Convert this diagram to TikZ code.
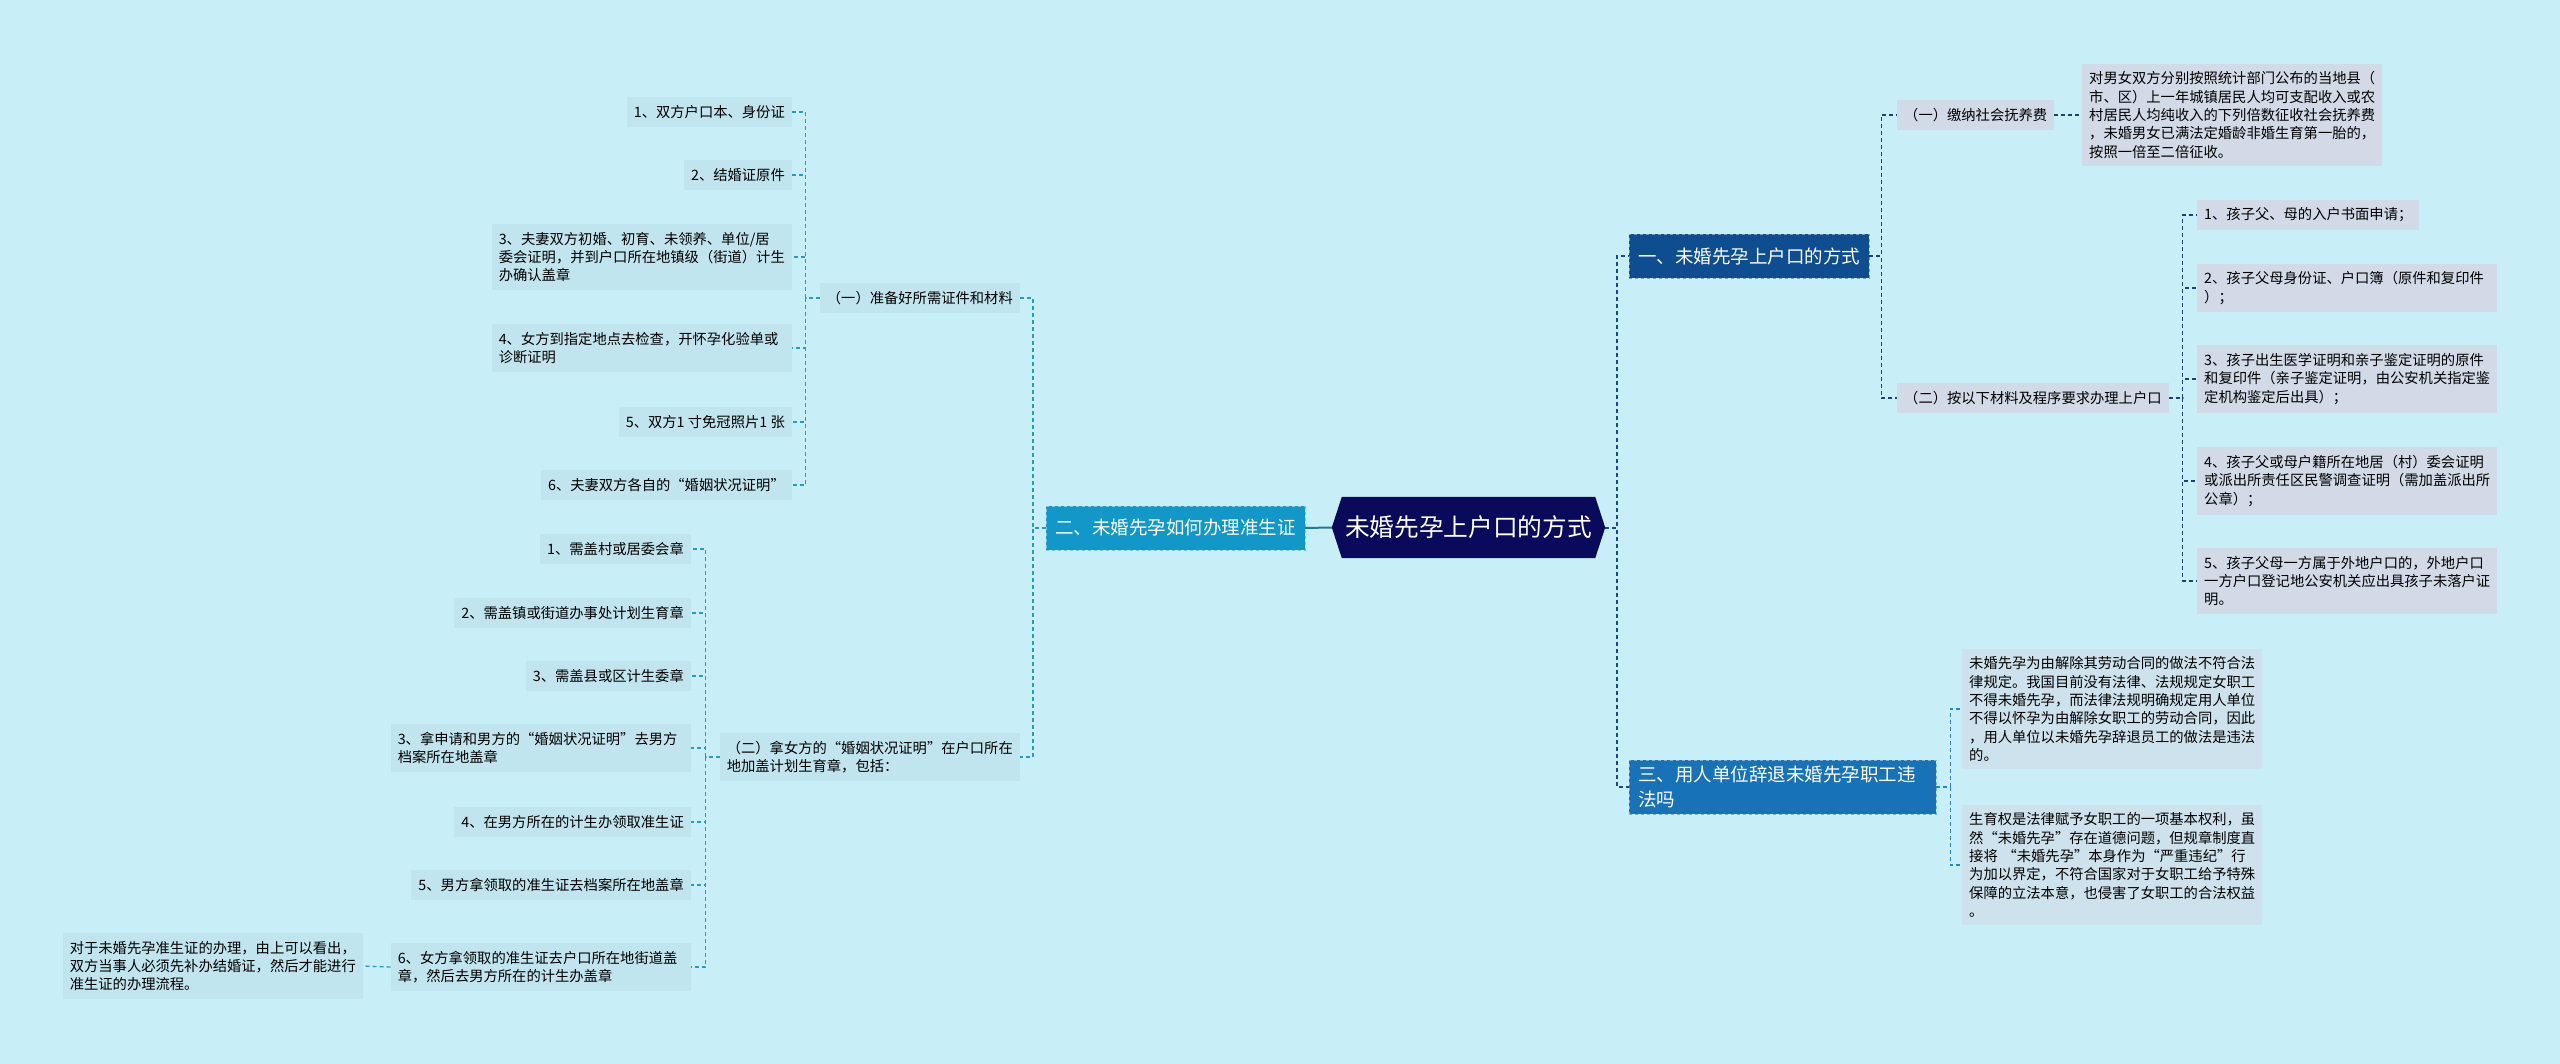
\documentclass[tikz,border=0pt]{standalone}
\usepackage{fontspec}
\setmainfont{Noto Sans CJK SC}
\usepackage{tikz}
\usetikzlibrary{backgrounds}
\definecolor{bgcyan}{HTML}{C8EFF7}
\definecolor{rootnavy}{HTML}{0A0A5C}
\definecolor{branchone}{HTML}{0E4D8F}
\definecolor{branchtwo}{HTML}{1298C8}
\definecolor{branchthree}{HTML}{1772B8}
\definecolor{leafgrey}{HTML}{D2DAE8}
\definecolor{leafcyan}{HTML}{C1E5EE}
\definecolor{leafpale}{HTML}{CEE2ED}
\definecolor{lineone}{HTML}{22406E}
\definecolor{linetwo}{HTML}{2A9AB8}
\definecolor{linethree}{HTML}{2C86BE}
\definecolor{lineroot}{HTML}{1A4A86}
\begin{document}
\begin{tikzpicture}
    [x=1pt,y=-1pt,
     rootnode/.style={minimum width=253pt,minimum height=61pt,inner sep=0pt,text=white,font=\fontsize{24.7}{30}\selectfont},
     mainbox/.style={rectangle,draw=#1!55!white,dashed,fill=#1,text=white,inner xsep=9pt,inner ysep=6pt,minimum height=44pt,align=left,font=\fontsize{18.5}{25}\selectfont},
     leafbox/.style={rectangle,fill=#1,inner xsep=7pt,inner ysep=8pt,align=left,font=\fontsize{14.3}{18.3}\selectfont},
     widebox/.style={text width=286pt},
     conn/.style={draw=#1,dash pattern=on 4pt off 3pt,line width=1.3pt}]
    \useasboundingbox (0,0) rectangle (2560,1064);

    \node (root) at (1468.5,527.5) [rootnode] {未婚先孕上户口的方式};

    \node (m2) at (1305,528) [mainbox=branchtwo,anchor=east] {二、未婚先孕如何办理准生证};
    \node (m1) at (1629,256) [mainbox=branchone,anchor=west] {一、未婚先孕上户口的方式};
    \node (m3) at (1629,787) [mainbox=branchthree,anchor=west,text width=289pt] {三、用人单位辞退未婚先孕职工违\\法吗};

    \node (s1) at (1020,298) [leafbox=leafcyan,anchor=east] {（一）准备好所需证件和材料};
    \node (s2) at (1020,757) [leafbox=leafcyan,anchor=east,widebox] {（二）拿女方的“婚姻状况证明”在户口所在\\地加盖计划生育章，包括：};

    \node (c11) at (792,112) [leafbox=leafcyan,anchor=east] {1、双方户口本、身份证};
    \node (c12) at (792,175) [leafbox=leafcyan,anchor=east] {2、结婚证原件};
    \node (c13) at (792,257) [leafbox=leafcyan,anchor=east,widebox] {3、夫妻双方初婚、初育、未领养、单位/居\\委会证明，并到户口所在地镇级（街道）计生\\办确认盖章};
    \node (c14) at (792,348) [leafbox=leafcyan,anchor=east,widebox] {4、女方到指定地点去检查，开怀孕化验单或\\诊断证明};
    \node (c15) at (792,422) [leafbox=leafcyan,anchor=east] {5、双方1 寸免冠照片1 张};
    \node (c16) at (792,485) [leafbox=leafcyan,anchor=east] {6、夫妻双方各自的“婚姻状况证明”};

    \node (c21) at (691,549) [leafbox=leafcyan,anchor=east] {1、需盖村或居委会章};
    \node (c22) at (691,613) [leafbox=leafcyan,anchor=east] {2、需盖镇或街道办事处计划生育章};
    \node (c23) at (691,676) [leafbox=leafcyan,anchor=east] {3、需盖县或区计生委章};
    \node (c24) at (691,748) [leafbox=leafcyan,anchor=east,widebox] {3、拿申请和男方的“婚姻状况证明”去男方\\档案所在地盖章};
    \node (c25) at (691,822) [leafbox=leafcyan,anchor=east] {4、在男方所在的计生办领取准生证};
    \node (c26) at (691,885) [leafbox=leafcyan,anchor=east] {5、男方拿领取的准生证去档案所在地盖章};
    \node (c27) at (691,967) [leafbox=leafcyan,anchor=east,widebox] {6、女方拿领取的准生证去户口所在地街道盖\\章，然后去男方所在的计生办盖章};
    \node (note) at (363,966) [leafbox=leafcyan,anchor=east,widebox] {对于未婚先孕准生证的办理，由上可以看出，\\双方当事人必须先补办结婚证，然后才能进行\\准生证的办理流程。};

    \node (r1) at (1897,115) [leafbox=leafgrey,anchor=west] {（一）缴纳社会抚养费};
    \node (r1p) at (2082,115) [leafbox=leafgrey,anchor=west,widebox] {对男女双方分别按照统计部门公布的当地县（\\市、区）上一年城镇居民人均可支配收入或农\\村居民人均纯收入的下列倍数征收社会抚养费\\，未婚男女已满法定婚龄非婚生育第一胎的，\\按照一倍至二倍征收。};
    \node (r2) at (1897,398) [leafbox=leafgrey,anchor=west] {（二）按以下材料及程序要求办理上户口};

    \node (r21) at (2197,215) [leafbox=leafgrey,anchor=west] {1、孩子父、母的入户书面申请；};
    \node (r22) at (2197,288) [leafbox=leafgrey,anchor=west,widebox] {2、孩子父母身份证、户口簿（原件和复印件\\）；};
    \node (r23) at (2197,379) [leafbox=leafgrey,anchor=west,widebox] {3、孩子出生医学证明和亲子鉴定证明的原件\\和复印件（亲子鉴定证明，由公安机关指定鉴\\定机构鉴定后出具）；};
    \node (r24) at (2197,481) [leafbox=leafgrey,anchor=west,widebox] {4、孩子父或母户籍所在地居（村）委会证明\\或派出所责任区民警调查证明（需加盖派出所\\公章）；};
    \node (r25) at (2197,581) [leafbox=leafgrey,anchor=west,widebox] {5、孩子父母一方属于外地户口的，外地户口\\一方户口登记地公安机关应出具孩子未落户证\\明。};

    \node (m31) at (1962,709) [leafbox=leafpale,anchor=west,widebox] {未婚先孕为由解除其劳动合同的做法不符合法\\律规定。我国目前没有法律、法规规定女职工\\不得未婚先孕，而法律法规明确规定用人单位\\不得以怀孕为由解除女职工的劳动合同，因此\\，用人单位以未婚先孕辞退员工的做法是违法\\的。};
    \node (m32) at (1962,865) [leafbox=leafpale,anchor=west,widebox] {生育权是法律赋予女职工的一项基本权利，虽\\然“未婚先孕”存在道德问题，但规章制度直\\接将 “未婚先孕”本身作为“严重违纪”行\\为加以界定，不符合国家对于女职工给予特殊\\保障的立法本意，也侵害了女职工的合法权益\\。};

    \begin{scope}[on background layer]
    \fill[bgcyan] (0,0) rectangle (2560,1064);
    \fill[rootnavy] ([xshift=-10pt]root.west) -- (root.north west) -- (root.north east)
        -- ([xshift=10pt]root.east) -- (root.south east) -- (root.south west) -- cycle;
    \end{scope}

    \draw[linetwo!80!black,line width=2pt] ([xshift=-10pt]root.west) -- (m2.east);
    \draw[conn=lineroot,line width=2pt] ([xshift=10pt]root.east) -- ++(12,0) |- (m1.west);
    \draw[conn=lineroot,line width=2pt] ([xshift=10pt]root.east) -- ++(12,0) |- (m3.west);

    \draw[conn=linetwo] (m2.west) -- ++(-13,0) |- (s1.east);
    \draw[conn=linetwo] (m2.west) -- ++(-13,0) |- (s2.east);

    \draw[conn=linetwo] (s1.west) -- ++(-14,0) |- (c11.east);
    \draw[conn=linetwo] (s1.west) -- ++(-14,0) |- (c12.east);
    \draw[conn=linetwo] (s1.west) -- ++(-14,0) |- (c13.east);
    \draw[conn=linetwo] (s1.west) -- ++(-14,0) |- (c14.east);
    \draw[conn=linetwo] (s1.west) -- ++(-14,0) |- (c15.east);
    \draw[conn=linetwo] (s1.west) -- ++(-14,0) |- (c16.east);

    \draw[conn=linetwo] (s2.west) -- ++(-14,0) |- (c21.east);
    \draw[conn=linetwo] (s2.west) -- ++(-14,0) |- (c22.east);
    \draw[conn=linetwo] (s2.west) -- ++(-14,0) |- (c23.east);
    \draw[conn=linetwo] (s2.west) -- ++(-14,0) |- (c24.east);
    \draw[conn=linetwo] (s2.west) -- ++(-14,0) |- (c25.east);
    \draw[conn=linetwo] (s2.west) -- ++(-14,0) |- (c26.east);
    \draw[conn=linetwo] (s2.west) -- ++(-14,0) |- (c27.east);
    \draw[conn=linetwo] (c27.west) -- (note.east);

    \draw[conn=lineone] (m1.east) -- ++(12,0) |- (r1.west);
    \draw[conn=lineone] (m1.east) -- ++(12,0) |- (r2.west);
    \draw[conn=lineone] (r1.east) -- (r1p.west);

    \draw[conn=lineone] (r2.east) -- ++(14,0) |- (r21.west);
    \draw[conn=lineone] (r2.east) -- ++(14,0) |- (r22.west);
    \draw[conn=lineone] (r2.east) -- ++(14,0) |- (r23.west);
    \draw[conn=lineone] (r2.east) -- ++(14,0) |- (r24.west);
    \draw[conn=lineone] (r2.east) -- ++(14,0) |- (r25.west);

    \draw[conn=linethree] (m3.east) -- ++(14,0) |- (m31.west);
    \draw[conn=linethree] (m3.east) -- ++(14,0) |- (m32.west);
    \end{tikzpicture}
\end{document}
